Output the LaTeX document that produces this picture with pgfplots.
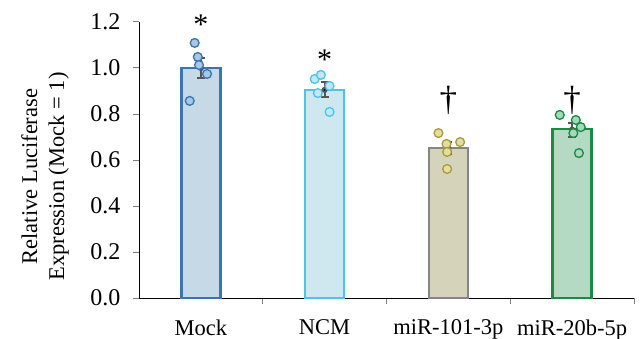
\documentclass[border=0pt]{standalone}
\usepackage{pgfplots}
\pgfplotsset{compat=1.18}
\usepackage{fontspec}
\setmainfont{Liberation Serif}
\definecolor{mockE}{HTML}{3A75B0}
\definecolor{mockF}{HTML}{C6D9E7}
\definecolor{mockP}{HTML}{A9C6E2}
\definecolor{ncmE}{HTML}{4CC3EA}
\definecolor{ncmF}{HTML}{CFE8F0}
\definecolor{ncmP}{HTML}{C2E7F5}
\definecolor{m101E}{HTML}{858585}
\definecolor{m101F}{HTML}{D5D3B9}
\definecolor{m101P}{HTML}{E2DDA2}
\definecolor{m101PE}{HTML}{A89C3C}
\definecolor{m20E}{HTML}{1A8A45}
\definecolor{m20F}{HTML}{B4DAC3}
\definecolor{m20P}{HTML}{A8D8BA}
\definecolor{errC}{HTML}{555555}
\begin{document}
\fontsize{22bp}{26bp}\selectfont
\begin{tikzpicture}
\begin{axis}[
  name=ax, at={(0,0)}, anchor=south west,
  scale only axis, width=495bp, height=276bp,
  xmin=-0.5, xmax=3.5, ymin=0, ymax=1.2,
  axis x line*=bottom, axis y line*=left,
  axis line style={line width=1pt, -},
  xtick={0,1,2,3},
  xticklabels={Mock,NCM,miR-101-3p,miR-20b-5p},
  major x tick style={draw=none},
  minor xtick={0.5,1.5,2.5,3.5},
  minor x tick style={line width=1pt},
  minor tick length=6bp,
  ytick={0,0.2,...,1.2},
  y tick style={line width=1pt},
  major tick length=6bp,
  tick align=outside,
  /pgf/number format/fixed, /pgf/number format/fixed zerofill,
  /pgf/number format/precision=1, /pgf/number format/assume math mode=true,
  xticklabel style={yshift=-8bp, font=\fontsize{22.5bp}{26bp}\selectfont},
  yticklabel style={xshift=-5bp, font=\fontsize{24bp}{26bp}\selectfont},
  ylabel={Relative Luciferase\\Expression (Mock = 1)},
  ylabel style={at={(rel axis cs:0,0.44)}, anchor=center, yshift=94bp, align=center, font=\fontsize{22.5bp}{27bp}\selectfont},
  clip=false,
]
% bars
\addplot[ybar, bar width=0.315, bar shift=0pt, draw=mockE, fill=mockF, line width=2.5bp] coordinates {(0,1.0)};
\addplot[ybar, bar width=0.315, bar shift=0pt, draw=ncmE, fill=ncmF, line width=2.5bp] coordinates {(1,0.905)};
\addplot[ybar, bar width=0.315, bar shift=0pt, draw=m101E, fill=m101F, line width=2.5bp] coordinates {(2,0.652)};
\addplot[ybar, bar width=0.315, bar shift=0pt, draw=m20E, fill=m20F, line width=2.5bp] coordinates {(3,0.735)};
% error bars
\addplot[only marks, mark=none, draw=errC, line width=2bp,
  error bars/.cd, y dir=both, y explicit,
  error bar style={line width=2bp, errC},
  error mark options={rotate=90, mark size=4bp, line width=2bp, errC}]
  coordinates {(0,1.0) +- (0,0.044) (1,0.905) +- (0,0.033) (2,0.652) +- (0,0.026) (3,0.732) +- (0,0.03)};
% points
\addplot[only marks, mark=*, mark size=4.4bp, mark options={draw=mockE, fill=mockP, line width=1.3bp}]
  coordinates {(-0.05,1.109) (-0.025,1.048) (-0.015,1.013) (0.05,0.974) (-0.09,0.857)};
\addplot[only marks, mark=*, mark size=4.4bp, mark options={draw=ncmE, fill=ncmP, line width=1.3bp}]
  coordinates {(0.92,0.952) (0.97,0.970) (1.04,0.922) (0.945,0.891) (1.04,0.809)};
\addplot[only marks, mark=*, mark size=4.4bp, mark options={draw=m101PE, fill=m101P, line width=1.3bp}]
  coordinates {(1.92,0.717) (1.985,0.670) (2.095,0.678) (1.99,0.635) (1.99,0.561)};
\addplot[only marks, mark=*, mark size=4.4bp, mark options={draw=m20E, fill=m20P, line width=1.3bp}]
  coordinates {(2.9,0.796) (3.03,0.774) (3.07,0.743) (3.01,0.717) (3.055,0.630)};
% significance marks
\node[font=\fontsize{30bp}{30bp}\selectfont, inner sep=0pt] at (axis cs:0,1.19) {*};
\node[font=\fontsize{30bp}{30bp}\selectfont, inner sep=0pt] at (axis cs:1,1.035) {*};
\node[font=\fontsize{35bp}{35bp}\selectfont, inner sep=0pt] at (axis cs:2,0.86) {\textdagger};
\node[font=\fontsize{35bp}{35bp}\selectfont, inner sep=0pt] at (axis cs:3,0.86) {\textdagger};
\end{axis}
\pgfresetboundingbox
\useasboundingbox (-139bp,-41bp) rectangle (504bp,298bp);
\end{tikzpicture}
\end{document}
